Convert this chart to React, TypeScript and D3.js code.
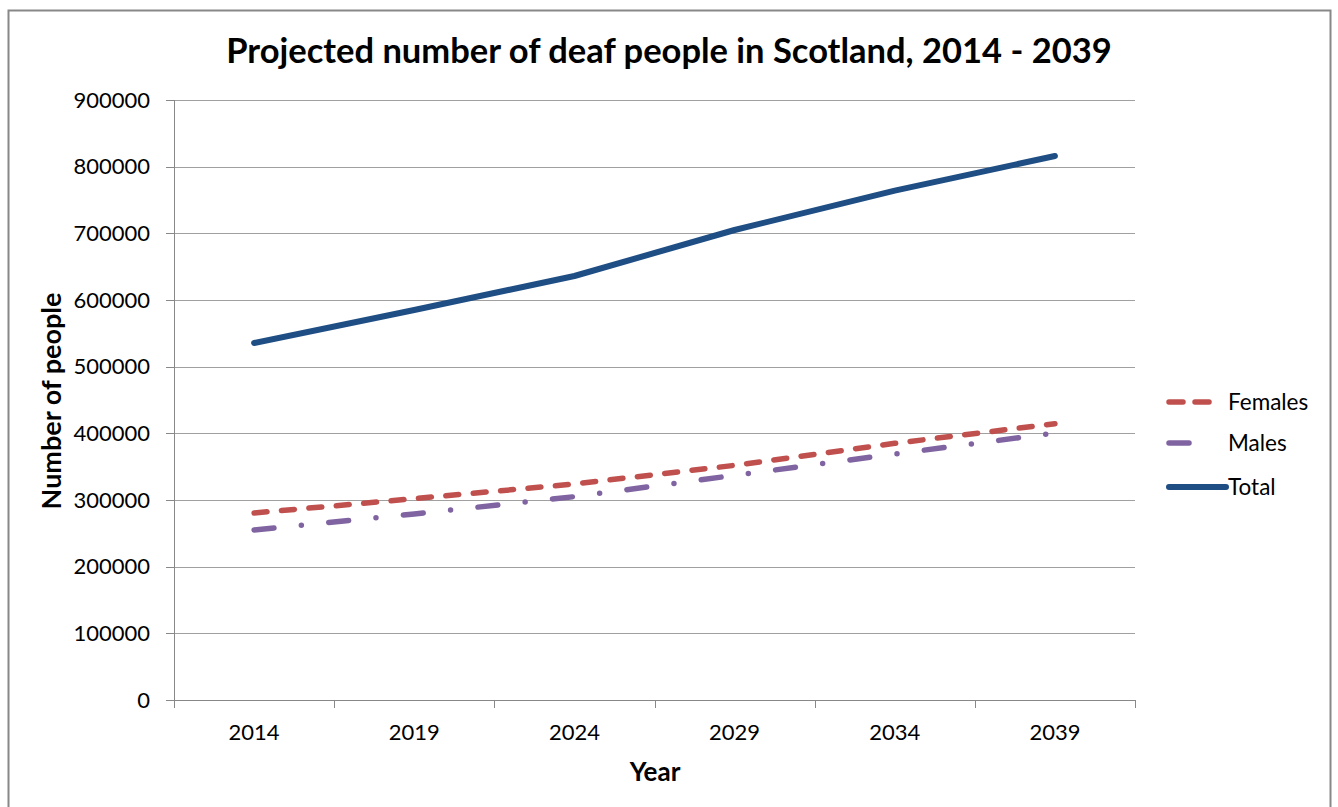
import React from "react";
import * as d3 from "d3";

const years = ["2014", "2019", "2024", "2029", "2034", "2039"];
const females = [280500, 302000, 324000, 352000, 385000, 414500];
const males = [255000, 279000, 305000, 337000, 369000, 400500];
const total = [535500, 585000, 636000, 705000, 764000, 816000];
const yTicks = [0, 100000, 200000, 300000, 400000, 500000, 600000, 700000, 800000, 900000];

const W = 1338, H = 807;
const left = 174, right = 1135, top = 100, bottom = 700;
const FONT = "Lato, 'Open Sans', sans-serif";

export default function App() {
  const x = d3.scaleBand<string>().domain(years).range([left, right]).padding(0);
  const y = d3.scaleLinear().domain([0, 900000]).range([bottom, top]);
  const cx = (d: string) => (x(d) as number) + x.bandwidth() / 2;
  const line = (vals: number[]) =>
    d3.line<number>().x((_, i) => cx(years[i])).y((v) => y(v))(vals) as string;

  const series = [
    { name: "Females", vals: females, color: "#C0504D", width: 5.5, dash: "13 14.5", ly: 402, lx2: 1213 },
    { name: "Males", vals: males, color: "#8064A2", width: 5.5, dash: "20 27.5 0 27.5", ly: 443, lx2: 1213 },
    { name: "Total", vals: total, color: "#1F4E84", width: 6, dash: undefined, ly: 487, lx2: 1226 },
  ];

  const boundaries = [...years.map((d) => x(d) as number), right];

  return (
    <svg width={W} height={H} style={{ display: "block", position: "absolute", left: 0, top: 0 }} fontFamily={FONT}>
      <rect x={0} y={0} width={W} height={H} fill="#fff" />
      <rect x={8.5} y={10.5} width={1322} height={820} fill="#fff" stroke="#888" strokeWidth={2} />
      <text x={669} y={63} textAnchor="middle" fontSize={34.5} fontWeight="bold" fill="#000">
        Projected number of deaf people in Scotland, 2014 - 2039
      </text>
      {yTicks.map((t) => (
        <g key={t}>
          {t > 0 && <line x1={left} x2={right} y1={Math.round(y(t)) + 0.5} y2={Math.round(y(t)) + 0.5} stroke="#a0a0a0" strokeWidth={1} />}
          <line x1={166} x2={left} y1={Math.round(y(t)) + 0.5} y2={Math.round(y(t)) + 0.5} stroke="#888" />
          <text x={150} y={y(t)} dy="0.35em" textAnchor="end" fontSize={22} fill="#000">{t}</text>
        </g>
      ))}
      <line x1={left + 0.5} x2={left + 0.5} y1={top} y2={bottom} stroke="#888" />
      <line x1={left} x2={right} y1={bottom + 0.5} y2={bottom + 0.5} stroke="#888" />
      {boundaries.map((b, i) => (
        <line key={i} x1={Math.round(b) + 0.5} x2={Math.round(b) + 0.5} y1={bottom} y2={bottom + 8} stroke="#888" />
      ))}
      {years.map((d) => (
        <text key={d} x={cx(d)} y={740} textAnchor="middle" fontSize={22} fill="#000">{d}</text>
      ))}
      <text x={655} y={781} textAnchor="middle" fontSize={26} fontWeight="bold" fill="#000">Year</text>
      <text transform={`translate(61,401) rotate(-90)`} textAnchor="middle" fontSize={27} fontWeight="bold" fill="#000">
        Number of people
      </text>
      {series.map((s) => (
        <path key={s.name} d={line(s.vals)} fill="none" stroke={s.color} strokeWidth={s.width}
          strokeDasharray={s.dash} strokeLinecap="round" strokeLinejoin="round" />
      ))}
      {series.map((s) => (
        <g key={"lg" + s.name}>
          <line x1={1169} x2={s.lx2} y1={s.ly} y2={s.ly} stroke={s.color} strokeWidth={s.width}
            strokeDasharray={s.name === "Females" ? "14 12" : s.name === "Males" ? "20 28.5 0 30" : undefined}
            strokeLinecap="round" />
          <text x={1228} y={s.ly} dy="0.35em" fontSize={22.5} fill="#000">{s.name}</text>
        </g>
      ))}
    </svg>
  );
}
